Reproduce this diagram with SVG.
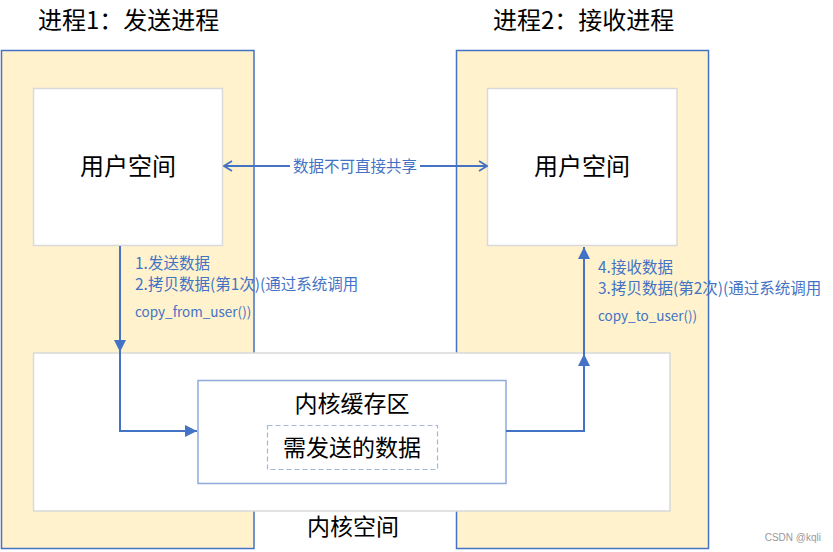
<svg xmlns="http://www.w3.org/2000/svg" width="833" height="552" viewBox="0 0 833 552">
<defs>
<style>
.panel{fill:#FFF2CC;stroke:#4472C4;stroke-width:1.5}
.box{fill:#FFFFFF;stroke:#D9D9D9;stroke-width:1.5}
.buf{fill:#FFFFFF;stroke:#8FAADC;stroke-width:1.5}
.dash{fill:none;stroke:#A6B8DA;stroke-width:1.2;stroke-dasharray:5 3}
.t{font-family:"Microsoft YaHei","Noto Sans CJK SC",sans-serif;fill:#000}
.lbl{font-family:"Microsoft YaHei","Noto Sans CJK SC",sans-serif;fill:#4472C4;font-size:15.5px}
.code{font-family:"Microsoft YaHei","Noto Sans CJK SC",sans-serif;fill:#4472C4;font-size:13.5px}
.conn{fill:none;stroke:#4472C4;stroke-width:2}
</style>
<marker id="tri" viewBox="0 0 10 10" refX="10" refY="5" markerWidth="6" markerHeight="6" orient="auto" markerUnits="strokeWidth">
<path d="M0,0 L10,5 L0,10 Z" fill="#4472C4"/>
</marker>
<marker id="open" viewBox="0 0 10 12" refX="9" refY="6" markerWidth="5" markerHeight="6" orient="auto-start-reverse" markerUnits="strokeWidth">
<path d="M1,1 L9,6 L1,11" fill="none" stroke="#4472C4" stroke-width="1.8"/>
</marker>
</defs>
<rect width="833" height="552" fill="#FFFFFF"/>
<g id="proc1">
<rect class="panel" x="1.5" y="50.5" width="252.5" height="498"/>
<text class="t" x="38" y="29" font-size="24">进程1：发送进程</text>
</g>
<g id="proc2">
<rect class="panel" x="456.5" y="50.5" width="252" height="498"/>
<text class="t" x="493" y="29" font-size="24">进程2：接收进程</text>
</g>
<g id="user1">
<rect class="box" x="33.5" y="88.5" width="189" height="157"/>
<text class="t" x="128" y="175" font-size="24" text-anchor="middle">用户空间</text>
</g>
<g id="user2">
<rect class="box" x="487.5" y="88.5" width="189.5" height="157"/>
<text class="t" x="582" y="175" font-size="24" text-anchor="middle">用户空间</text>
</g>
<g id="kernel">
<rect class="box" x="33.5" y="353" width="636.5" height="158"/>
<text class="t" x="353" y="535" font-size="23" text-anchor="middle">内核空间</text>
</g>
<g id="buffer">
<rect class="buf" x="198" y="380.5" width="308" height="103"/>
<text class="t" x="352" y="412" font-size="23" text-anchor="middle">内核缓存区</text>
<rect class="dash" x="267.5" y="425.5" width="170" height="44"/>
<text class="t" x="352" y="456" font-size="23" text-anchor="middle">需发送的数据</text>
</g>
<g id="connectors">
<line class="conn" x1="224" y1="166" x2="290" y2="166" marker-start="url(#open)"/>
<line class="conn" x1="420" y1="166" x2="487" y2="166" marker-end="url(#open)"/>
<text class="lbl" x="355" y="171.5" text-anchor="middle">数据不可直接共享</text>
<line class="conn" x1="120" y1="246" x2="120" y2="352" marker-end="url(#tri)"/>
<polyline class="conn" points="120,352 120,431 197,431" marker-end="url(#tri)"/>
<polyline class="conn" points="506,431 584,431 584,354" marker-end="url(#tri)"/>
<line class="conn" x1="584" y1="354" x2="584" y2="247" marker-end="url(#tri)"/>
</g>
<g id="labels">
<text class="lbl" x="135" y="269">1.发送数据</text>
<text class="lbl" x="135" y="290">2.拷贝数据(第1次)(通过系统调用</text>
<text class="code" x="135" y="317">copy_from_user())</text>
<text class="lbl" x="598" y="273">4.接收数据</text>
<text class="lbl" x="598" y="294">3.拷贝数据(第2次)(通过系统调用</text>
<text class="code" x="598" y="321">copy_to_user())</text>
</g>
<text x="821" y="541" font-family="'Liberation Sans',sans-serif" font-size="10" fill="#999999" text-anchor="end">CSDN @kqli</text>
</svg>
